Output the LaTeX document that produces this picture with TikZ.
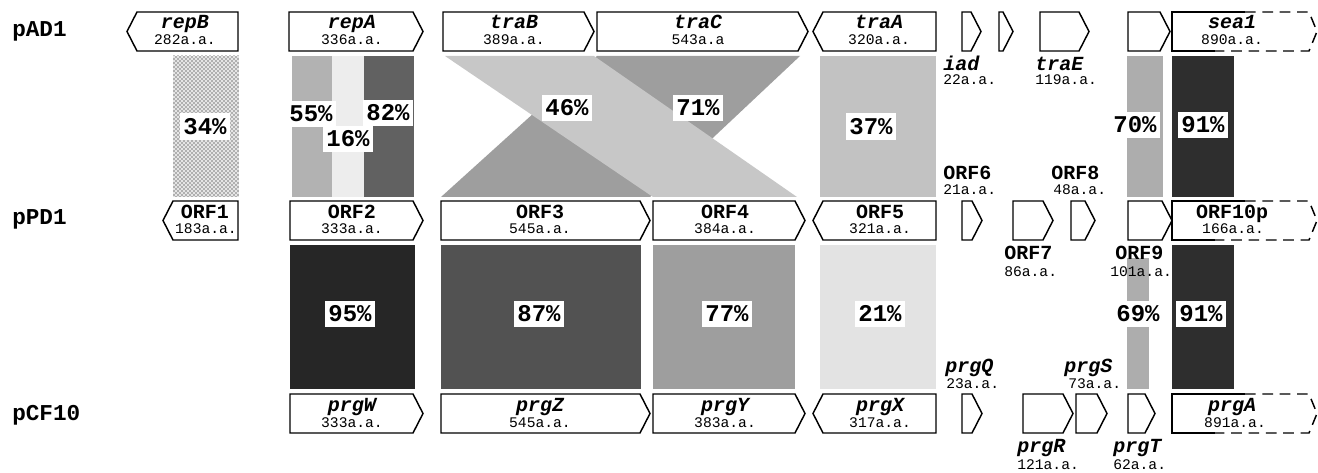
\documentclass[tikz,border=0pt]{standalone}
\usepackage{fontspec}
\setmonofont{Liberation Mono}
\usepackage{tikz}
\usetikzlibrary{patterns}

\begin{document}
\begin{tikzpicture}[x=0.75pt,y=-0.75pt,
  gene/.style={draw,line width=1.1pt,fill=white,line join=miter},
  dashgene/.style={gene,fill=none,dash pattern=on 8pt off 5pt},
  plasmid/.style={font=\ttfamily\bfseries\fontsize{17}{17}\selectfont,anchor=base west,inner sep=0pt},
  gname/.style={font=\ttfamily\bfseries\itshape\fontsize{15}{15}\selectfont,anchor=base,inner sep=0pt},
  orf/.style={font=\ttfamily\bfseries\fontsize{15}{15}\selectfont,anchor=base,inner sep=0pt},
  aa/.style={font=\ttfamily\fontsize{11}{11}\selectfont,anchor=base,inner sep=0pt},
  pct/.style={font=\ttfamily\bfseries\fontsize{18}{18}\selectfont,fill=white,inner xsep=2.5pt,inner ysep=4pt}]
\useasboundingbox (0,0) rectangle (1318,473);

\fill[black!10] (173,56) rectangle (239,197);
\fill[pattern=crosshatch dots,pattern color=black] (173,56) rectangle (239,197);
\fill[black!30] (292,56) rectangle (332,197);
\fill[black!7] (332,56) rectangle (364,197);
\fill[black!62] (364,56) rectangle (414,197);
\fill[black!38] (597,56) -- (800,56) -- (650,197) -- (441,197) -- cycle;
\fill[black!22] (445,56) -- (594,56) -- (797,197) -- (653,197) -- cycle;
\fill[black!24] (820,56) rectangle (936,197);
\fill[black!32] (1127,56) rectangle (1163,197);
\fill[black!82] (1172,56) rectangle (1234,197);

\fill[black!85] (290,245) rectangle (415,389);
\fill[black!68] (441,245) rectangle (641,389);
\fill[black!38] (653,245) rectangle (795,389);
\fill[black!11] (820,245) rectangle (936,389);
\fill[black!32] (1127,258) rectangle (1149,389);
\fill[black!82] (1172,245) rectangle (1234,389);

\foreach \l/\r/\t in {289/423/12,443/594/12,597/808/12,962/981/12,999/1013/12,1040/1089/12,1128/1170/12,
  290/423/201,441/650/201,653/805/201,962/982/201,1013/1053/201,1071/1095/201,1128/1172/201,
  290/423/394,441/650/394,653/805/394,962/982/394,1023/1073/394,1076/1107/394,1128/1155/394}
  \draw[gene] (\l,\t) -- (\r-10,\t) -- (\r,\t+19.5) -- (\r-10,\t+39) -- (\l,\t+39) -- cycle;
\foreach \r/\l/\t in {238/127/12,936/813/12,238/163/201,936/813/201,936/813/394}
  \draw[gene] (\r,\t) -- (\l+10,\t) -- (\l,\t+19.5) -- (\l+10,\t+39) -- (\r,\t+39) -- cycle;
\foreach \t in {12,201,394} {
  \draw[gene] (1245,\t) -- (1172,\t) -- (1172,\t+39) -- (1215,\t+39);
  \draw[dashgene] (1245,\t) -- (1309,\t) -- (1317,\t+19.5) -- (1309,\t+39) -- (1215,\t+39);
}

\node[plasmid] (pAD1) at (12,37) {pAD1};
\node[plasmid] (pPD1) at (12,225) {pPD1};
\node[plasmid] (pCF10) at (12,421) {pCF10};

\node[gname] (repB) at (185,29) {repB};
\node[aa] (repBaa) at (185,45) {282a.a.};
\node[gname] (repA) at (352,29) {repA};
\node[aa] (repAaa) at (352,45) {336a.a.};
\node[gname] (traB) at (514,29) {traB};
\node[aa] (traBaa) at (514,45) {389a.a.};
\node[gname] (traC) at (698,29) {traC};
\node[aa] (traCaa) at (698,45) {543a.a};
\node[gname] (traA) at (879,29) {traA};
\node[aa] (traAaa) at (879,45) {320a.a.};
\node[gname] (sea1) at (1232,29) {sea1};
\node[aa] (sea1aa) at (1232,45) {890a.a.};
\node[gname,anchor=base west] (iad) at (943,71) {iad};
\node[aa,anchor=base west] (iadaa) at (943,85) {22a.a.};
\node[gname,anchor=base west] (traE) at (1035,71) {traE};
\node[aa,anchor=base west] (traEaa) at (1035,85) {119a.a.};

\node[orf] (ORF1) at (205,219) {ORF1};
\node[aa] (ORF1aa) at (206,234) {183a.a.};
\node[orf] (ORF2) at (352,219) {ORF2};
\node[aa] (ORF2aa) at (352,234) {333a.a.};
\node[orf] (ORF3) at (540,219) {ORF3};
\node[aa] (ORF3aa) at (540,234) {545a.a.};
\node[orf] (ORF4) at (725,219) {ORF4};
\node[aa] (ORF4aa) at (725,234) {384a.a.};
\node[orf] (ORF5) at (880,219) {ORF5};
\node[aa] (ORF5aa) at (880,234) {321a.a.};
\node[orf] (ORF10p) at (1232,219) {ORF10p};
\node[aa] (ORF10paa) at (1233,234) {166a.a.};
\node[orf,anchor=base west] (ORF6) at (943,180) {ORF6};
\node[aa,anchor=base west] (ORF6aa) at (943,195) {21a.a.};
\node[orf,anchor=base west] (ORF8) at (1051,180) {ORF8};
\node[aa,anchor=base west] (ORF8aa) at (1053,195) {48a.a.};
\node[orf,anchor=base west] (ORF7) at (1004,260) {ORF7};
\node[aa,anchor=base west] (ORF7aa) at (1004,277) {86a.a.};
\node[orf,anchor=base west] (ORF9) at (1115,260) {ORF9};
\node[aa,anchor=base west] (ORF9aa) at (1110,277) {101a.a.};

\node[gname] (prgW) at (352,412) {prgW};
\node[aa] (prgWaa) at (352,428) {333a.a.};
\node[gname] (prgZ) at (540,412) {prgZ};
\node[aa] (prgZaa) at (540,428) {545a.a.};
\node[gname] (prgY) at (725,412) {prgY};
\node[aa] (prgYaa) at (725,428) {383a.a.};
\node[gname] (prgX) at (880,412) {prgX};
\node[aa] (prgXaa) at (880,428) {317a.a.};
\node[gname] (prgA) at (1232,412) {prgA};
\node[aa] (prgAaa) at (1235,428) {891a.a.};
\node[gname,anchor=base west] (prgQ) at (945,373) {prgQ};
\node[aa,anchor=base west] (prgQaa) at (946,389) {23a.a.};
\node[gname,anchor=base west] (prgS) at (1064,373) {prgS};
\node[aa,anchor=base west] (prgSaa) at (1068,389) {73a.a.};
\node[gname,anchor=base west] (prgR) at (1017,453) {prgR};
\node[aa,anchor=base west] (prgRaa) at (1017,470) {121a.a.};
\node[gname,anchor=base west] (prgT) at (1113,453) {prgT};
\node[aa,anchor=base west] (prgTaa) at (1113,470) {62a.a.};

\node[pct] (p34) at (205,127) {34\%};
\node[pct] (p55) at (311,114) {55\%};
\node[pct] (p82) at (388,113) {82\%};
\node[pct] (p16) at (348,139) {16\%};
\node[pct] (p46) at (567,108) {46\%};
\node[pct] (p71) at (698,108) {71\%};
\node[pct] (p37) at (871,127) {37\%};
\node[pct] (p70) at (1135,125) {70\%};
\node[pct] (p91a) at (1203,125) {91\%};
\node[pct] (p95) at (350,314) {95\%};
\node[pct] (p87) at (539,314) {87\%};
\node[pct] (p77) at (727,314) {77\%};
\node[pct] (p21) at (880,314) {21\%};
\node[pct] (p69) at (1138,314) {69\%};
\node[pct] (p91b) at (1201,314) {91\%};
\end{tikzpicture}
\end{document}
